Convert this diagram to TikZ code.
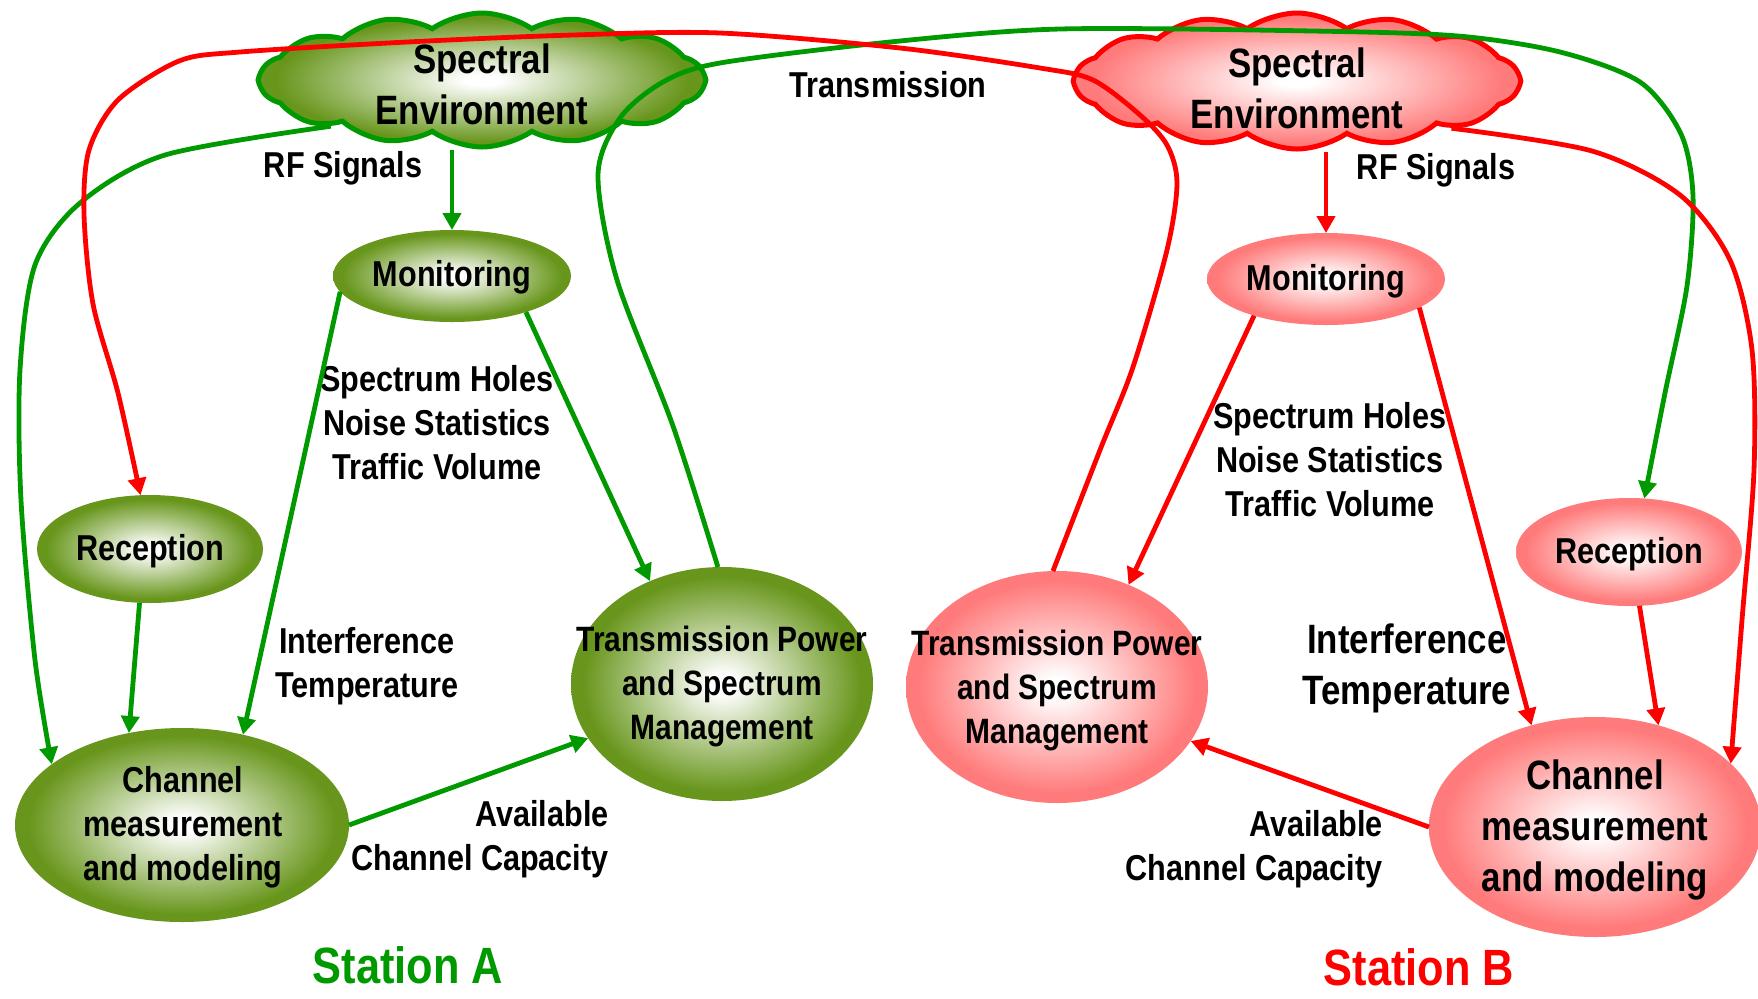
\documentclass[tikz,border=0pt]{standalone}
\usepackage{fontspec}
\setmainfont[FakeStretch=0.85]{Liberation Sans}
\usetikzlibrary{shapes.geometric,shapes.symbols,arrows.meta}
\definecolor{gline}{RGB}{0,153,0}
\definecolor{gfillc}{RGB}{104,150,28}
\definecolor{rline}{RGB}{255,0,0}
\definecolor{rfillc}{RGB}{255,122,122}
\pgfdeclareradialshading{gshade}{\pgfpointorigin}{color(0bp)=(white); color(2bp)=(white); color(23bp)=(gfillc); color(25bp)=(gfillc); color(50bp)=(gfillc)}
\pgfdeclareradialshading{rshade}{\pgfpointorigin}{color(0bp)=(white); color(2bp)=(white); color(23bp)=(rfillc); color(25bp)=(rfillc); color(50bp)=(rfillc)}
\tikzset{
  gell/.style={ellipse, shading=gshade, inner sep=0pt, outer sep=0pt},
  rell/.style={ellipse, shading=rshade, inner sep=0pt, outer sep=0pt},
  gcloud/.style={cloud, cloud puffs=14, cloud puff arc=70, cloud ignores aspect, draw=gline, line width=2.5pt, shading=gshade, inner sep=0pt},
  rcloud/.style={cloud, cloud puffs=14, cloud puff arc=70, cloud ignores aspect, draw=rline, line width=2.5pt, shading=rshade, inner sep=0pt},
  txt/.style={font=\bfseries\fontsize{18}{22}\selectfont, align=center, inner sep=0pt},
  tptxt/.style={font=\bfseries\fontsize{17.6}{22}\selectfont, align=center, inner sep=0pt},
  bigtxt/.style={font=\bfseries\fontsize{20.5}{25.5}\selectfont, align=center, inner sep=0pt},
  sttxt/.style={font=\bfseries\fontsize{25.5}{30}\selectfont, inner sep=0pt},
  garr/.style={draw=gline, line width=2.4pt, -{Triangle[length=8.5pt,width=9pt]}},
  rarr/.style={draw=rline, line width=2.4pt, -{Triangle[length=8.5pt,width=9pt]}}
}
\begin{document}
\begin{tikzpicture}[x=0.5pt,y=-0.5pt]
\useasboundingbox (0,0) rectangle (1758,998);
% clouds
\node[gcloud, minimum width=222pt, minimum height=67pt] (cloudA) at (482,80) {};
\node[bigtxt] (cloudAt) at (482,84) {Spectral\\Environment};
\node[rcloud, minimum width=222pt, minimum height=68pt] (cloudB) at (1297,81) {};
\node[bigtxt] (cloudBt) at (1297,88) {Spectral\\Environment};
% station A nodes
\node[gell, minimum width=119pt, minimum height=46pt] (monA) at (452,276) {};
\node[txt] (monAt) at (452,277) {Monitoring};
\node[gell, minimum width=113pt, minimum height=54pt] (recA) at (150,549) {};
\node[txt] (recAt) at (150,551) {Reception};
\node[gell, minimum width=167pt, minimum height=97pt] (chA) at (182,825) {};
\node[txt] (chAt) at (183,827) {Channel\\measurement\\and modeling};
\node[gell, minimum width=151pt, minimum height=117pt] (tpA) at (722,684) {};
\node[tptxt] (tpAt) at (722,686) {Transmission Power\\and Spectrum\\Management};
% station B nodes
\node[rell, minimum width=119pt, minimum height=46pt] (monB) at (1326,279) {};
\node[txt] (monBt) at (1326,281) {Monitoring};
\node[rell, minimum width=113pt, minimum height=54pt] (recB) at (1629,552) {};
\node[txt] (recBt) at (1629,554) {Reception};
\node[rell, minimum width=166pt, minimum height=110pt] (chB) at (1595,827) {};
\node[bigtxt] (chBt) at (1595,830) {Channel\\measurement\\and modeling};
\node[rell, minimum width=151pt, minimum height=116pt] (tpB) at (1057,687) {};
\node[tptxt] (tpBt) at (1057,690) {Transmission Power\\and Spectrum\\Management};
% labels
\node[txt] (trans) at (888,85) {Transmission};
\node[txt] (rfA) at (343,168) {RF Signals};
\node[txt] (rfB) at (1436,170) {RF Signals};
\node[txt] (shA) at (437,423) {Spectrum Holes\\Noise Statistics\\Traffic Volume};
\node[txt] (shB) at (1330,460) {Spectrum Holes\\Noise Statistics\\Traffic Volume};
\node[txt] (itA) at (367,666) {Interference\\Temperature};
\node[bigtxt] (itB) at (1407,668) {Interference\\Temperature};
\node[txt, align=right, anchor=east] (accA) at (609,839) {Available\\Channel Capacity};
\node[txt, align=right, anchor=east] (accB) at (1383,849) {Available\\Channel Capacity};
\node[sttxt, text=gline] (stA) at (408,965) {Station A};
\node[sttxt, text=rline] (stB) at (1419,967) {Station B};
% green connectors
\draw[garr] (monA.north |- cloudA.south) -- (monA.north);
\draw[garr] plot[smooth] coordinates {(cloudA.197) (165,155) (80,203) (35,265) (20,370) (21,500) (35,660) (chA.155)};
\draw[garr] (monA.188) -- (chA.56);
\draw[garr] (monA.334) -- (tpA.125);
\draw[garr] (recA.259) -- (chA.120);
\draw[garr] (chA.0) -- (tpA.202);
\draw[garr] plot[smooth] coordinates {(tpA.92) (673,426) (617,280) (598,175) (620,118) (663,82) (720,63) (890,42) (1060,29) (1313,31) (1458,36) (1560,52) (1640,82) (1681,134) (1693,196) (1687,286) (1665,393) (recB.74)};
% red connectors
\draw[rarr] (monB.north |- cloudB.south) -- (monB.north);
\draw[rarr] plot[smooth] coordinates {(cloudB.343) (1592,151) (1680,195) (1730,260) (1752,350) (1754,470) (1742,620) (chB.25)};
\draw[rarr] (monB.207) -- (tpB.55);
\draw[rarr] (monB.343) -- (chB.122);
\draw[rarr] (recB.281) -- (chB.58);
\draw[rarr] (chB.180) -- (tpB.338);
\draw[rarr] plot[smooth] coordinates {(tpB.92) (1100,450) (1133,367) (1167,250) (1177,183) (1167,145) (1140,115) (1093,80) (1040,68) (900,48) (720,33) (573,35) (407,42) (240,52) (179,61) (118,100) (89,150) (84,214) (93,304) (118,393) (recA.100)};
\end{tikzpicture}
\end{document}
